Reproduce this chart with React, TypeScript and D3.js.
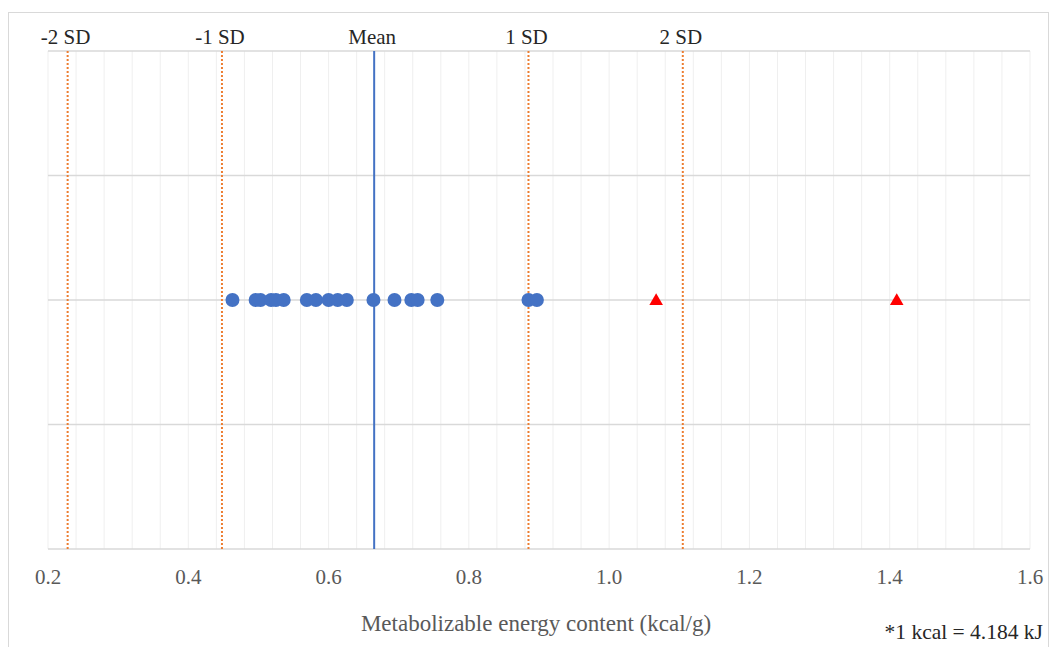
import React, { useEffect } from "react";
import * as d3 from "d3";

// values
const energyValues = [
  0.463, 0.496, 0.503, 0.518, 0.525, 0.536, 0.569, 0.582, 0.6, 0.613, 0.626,
  0.664, 0.694, 0.718, 0.727, 0.755, 0.885, 0.897,
];
const outlierValues = [1.067, 1.41];
const sdLabels = ["-2 SD", "-1 SD", "Mean", "1 SD", "2 SD"];
const sdValues = [0.228, 0.448, 0.665, 0.885, 1.105];
const xTicks = [0.2, 0.4, 0.6, 0.8, 1.0, 1.2, 1.4, 1.6];
const yGrid = [0, 0.5, 1, 1.5, 2];

const width = 1053;
const height = 647;
const serif = "Liberation Serif, Times New Roman, serif";

function App() {
  useEffect(() => {
    document.body.style.margin = "0";
  }, []);

  const left = 48;
  const right = 1030;
  const top = 51;
  const bottom = 549;

  const x = d3.scaleLinear().domain([0.2, 1.6]).range([left, right]);
  const y = d3.scaleLinear().domain([0, 2]).range([bottom, top]);
  const minor = d3.range(0.2, 1.6001, 0.04);
  const tri = d3.symbol().type(d3.symbolTriangle).size(80)();

  return (
    <svg width={width} height={height} style={{ display: "block" }}>
      <rect x={0} y={0} width={width} height={height} fill="#fff" />
      <rect
        x={8.5}
        y={12.5}
        width={1040}
        height={640}
        fill="none"
        stroke="#d9d9d9"
      />

      {/* vertical grid */}
      {minor.map((v, i) => (
        <line
          key={"v" + i}
          x1={x(v)}
          x2={x(v)}
          y1={top}
          y2={bottom}
          stroke="#efefef"
          strokeWidth={1}
        />
      ))}
      {/* horizontal grid */}
      {yGrid.map((v) => (
        <line
          key={"h" + v}
          x1={left}
          x2={right}
          y1={y(v)}
          y2={y(v)}
          stroke="#d9d9d9"
          strokeWidth={1.3}
        />
      ))}

      {/* SD lines */}
      {sdValues.map((v, i) => (
        <g key={"sd" + i}>
          <line
            x1={x(v)}
            x2={x(v)}
            y1={top}
            y2={bottom}
            stroke={i === 2 ? "#4472C4" : "#ED7D31"}
            strokeWidth={2}
            strokeDasharray={i === 2 ? undefined : "2,2"}
          />
          <text
            x={x(v) - 2}
            y={44}
            textAnchor="middle"
            fontFamily={serif}
            fontSize={21}
            fill="#262626"
          >
            {sdLabels[i]}
          </text>
        </g>
      ))}

      {/* points */}
      {energyValues.map((v, i) => (
        <circle key={"c" + i} cx={x(v)} cy={y(1)} r={7} fill="#4472C4" />
      ))}
      {outlierValues.map((v, i) => (
        <path
          key={"t" + i}
          d={tri || ""}
          transform={`translate(${x(v)},${y(1) + 1})`}
          fill="#FF0000"
        />
      ))}

      {/* x tick labels */}
      {xTicks.map((v) => (
        <text
          key={"xt" + v}
          x={x(v)}
          y={584}
          textAnchor="middle"
          fontFamily={serif}
          fontSize={21}
          fill="#595959"
        >
          {v.toFixed(1)}
        </text>
      ))}

      <text
        x={536}
        y={631}
        textAnchor="middle"
        fontFamily={serif}
        fontSize={23}
        fill="#595959"
      >
        Metabolizable energy content (kcal/g)
      </text>
      <text
        x={1043}
        y={639}
        textAnchor="end"
        fontFamily={serif}
        fontSize={21.5}
        fill="#262626"
      >
        *1 kcal = 4.184 kJ
      </text>
    </svg>
  );
}

export default App;
